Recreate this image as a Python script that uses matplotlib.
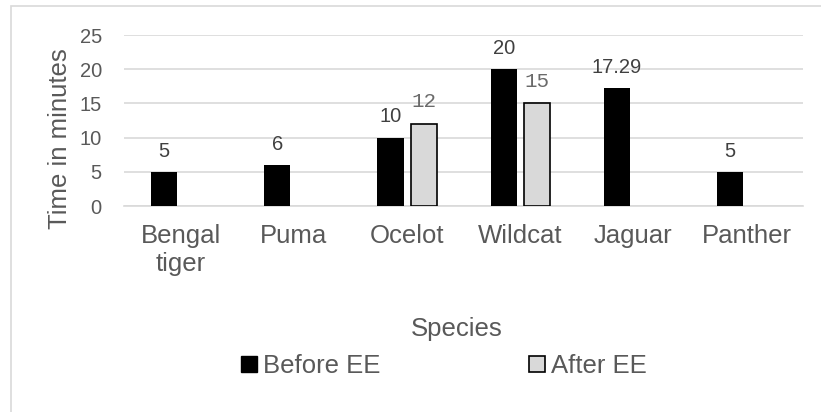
import matplotlib.pyplot as plt
import numpy as np
from matplotlib.patches import Patch, Rectangle

species = ['Bengal\ntiger', 'Puma', 'Ocelot', 'Wildcat', 'Jaguar', 'Panther']
before_ee = [5, 6, 10, 20, 17.29, 5]
after_ee = [np.nan, np.nan, 12, 15, np.nan, np.nan]
yticks = [0, 5, 10, 15, 20, 25]

txt = '#595959'
plt.rcParams['font.family'] = ['Liberation Sans', 'DejaVu Sans']

fig = plt.figure(figsize=(8.21, 4.12), dpi=100)
ax = fig.add_axes([124 / 821, 0.5, 679 / 821, 0.415])

# light frame around the chart area
fig.patches.append(Rectangle((11 / 821, -0.1), 1.2, 1 - 6 / 412 + 0.1,
                             transform=fig.transFigure, fill=False,
                             edgecolor='#d9d9d9', linewidth=1.2))

x = np.arange(len(species))
w = 0.23
b1 = ax.bar(x - 0.145, before_ee, w, color='black', zorder=3)
b2 = ax.bar(x + 0.15, after_ee, w, color='#d9d9d9', edgecolor='black',
            linewidth=1.2, zorder=3)

ax.bar_label(b1, labels=[f'{v:g}' for v in before_ee], padding=8,
             fontsize=14.5, color='#404040')
ax.bar_label(b2, labels=['' if np.isnan(v) else f'{v:g}' for v in after_ee],
             padding=9, fontsize=15, color='#6a6a6a', family='Liberation Mono')

ax.set_xlim(-0.5, len(species) - 0.5)
ax.set_ylim(0, 25)
ax.set_yticks(yticks)
ax.set_xticks(x)
ax.set_xticklabels(species, fontsize=18.5, color=txt, linespacing=1.2)
ax.tick_params(axis='x', length=0, pad=13)
ax.tick_params(axis='y', length=0, pad=16, labelsize=14.5, labelcolor=txt)
ax.grid(axis='y', color='#d9d9d9', linewidth=1.2, zorder=0)
for s in ['top', 'right', 'left']:
    ax.spines[s].set_visible(False)
ax.spines['bottom'].set_color('#d9d9d9')
ax.spines['bottom'].set_linewidth(1.2)

fig.text(60 / 821, 1 - 139 / 412, 'Time in minutes', rotation=90,
         ha='center', va='center', fontsize=18.5, color=txt)
fig.text(457 / 821, 1 - 329 / 412, 'Species', ha='center', va='center',
         fontsize=18.5, color=txt)

handles = [Patch(facecolor='black', edgecolor='black'),
           Patch(facecolor='#d9d9d9', edgecolor='black', linewidth=1.2)]
fig.legend(handles, ['Before EE', 'After EE'], loc='center',
           bbox_to_anchor=(444 / 821, 1 - 366 / 412), ncol=2, frameon=False,
           fontsize=18.5, labelcolor=txt, handlelength=0.6, handleheight=0.6,
           handletextpad=0.25, columnspacing=5.8)

fig.savefig('out.png', dpi=100)
